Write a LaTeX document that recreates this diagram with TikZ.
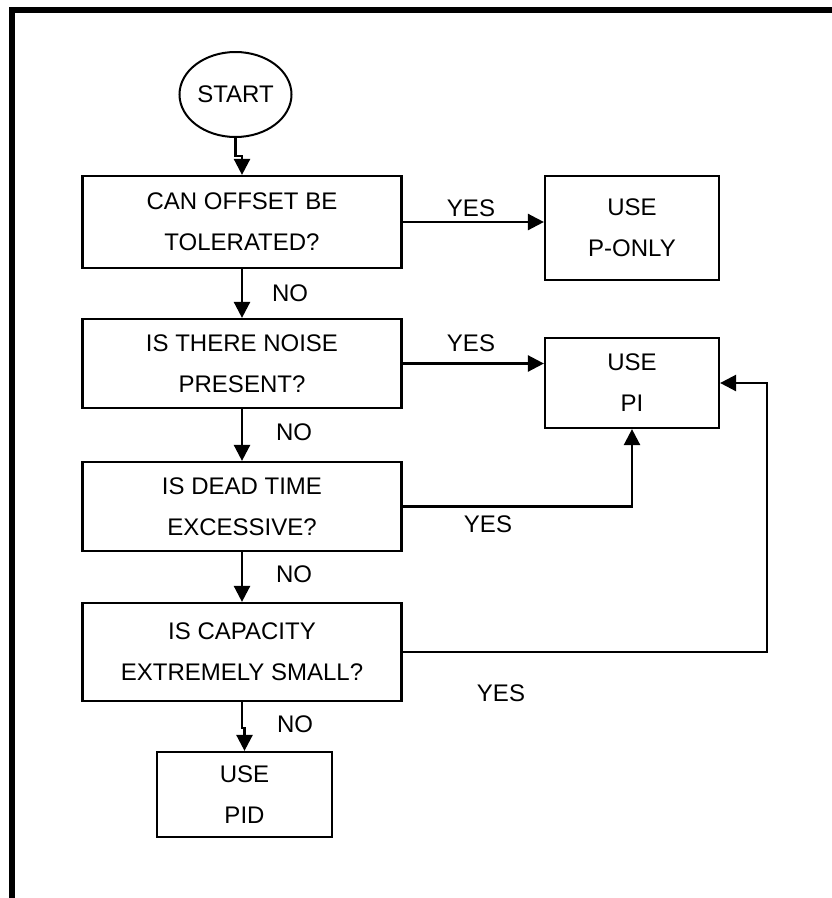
\documentclass[tikz,border=0pt]{standalone}
\usepackage{fontspec}
\setmainfont{Liberation Sans}
\usetikzlibrary{shapes.geometric,arrows.meta}
\begin{document}
\begin{tikzpicture}[x=1pt,y=-1pt,
  txt/.style={font=\fontsize{24}{41}\selectfont},
  decision/.style={draw,line width=2.2pt,txt,align=center,minimum width=319pt,inner sep=0pt},
  outcome/.style={draw,line width=2.2pt,txt,align=center,inner sep=0pt},
  flow/.style={line width=2.5pt,-{Triangle[length=16pt,width=16pt]}},
  link/.style={line width=2.5pt},
  lbl/.style={txt,inner sep=0pt}]
\useasboundingbox (0,0) rectangle (832,898);

% frame (top and left edges)
\draw[line width=6pt] (12,898) -- (12,10) -- (832,10);

% terminal
\node[draw,ellipse,line width=2pt,txt,minimum width=112pt,minimum height=85pt,inner sep=0pt]
  (start) at (235.5,94.5) {START};

% decisions
\node[decision,minimum height=92pt] (q1) at (242,222)   {CAN OFFSET BE\\TOLERATED?};
\node[decision,minimum height=89pt] (q2) at (242,363.5) {IS THERE NOISE\\PRESENT?};
\node[decision,minimum height=89pt] (q3) at (242,506.5) {IS DEAD TIME\\EXCESSIVE?};
\node[decision,minimum height=98pt] (q4) at (242,652)   {IS CAPACITY\\EXTREMELY SMALL?};

% outcomes
\node[outcome,minimum width=174pt,minimum height=104pt] (ponly) at (632,228)   {USE\\P-ONLY};
\node[outcome,minimum width=174pt,minimum height=90pt]  (pi)    at (632,383)   {USE\\PI};
\node[outcome,minimum width=175pt,minimum height=85pt]  (pid)   at (244.5,794.5) {USE\\PID};

% connectors
\draw[flow] (start.south) -- ++(0,18) -| (q1.north);
\draw[flow] (q1.south) -- (q2.north);
\draw[flow] (q2.south) -- (q3.north);
\draw[flow] (q3.south) -- (q4.north);
\draw[flow] (q4.south) -- ++(0,26) -| (pid.north);
\draw[flow] (q1.east) -- (q1.east -| ponly.west);
\draw[flow] (q2.east) -- (q2.east -| pi.west);
\draw[flow] (q3.east) -| (pi.south);
\coordinate (loop) at (767,652);
\draw[flow] (q4.east) -- (loop) |- (pi.east);

% branch labels
\node[lbl] (no1) at (290,293) {NO};
\node[lbl] (no2) at (294,432) {NO};
\node[lbl] (no3) at (294,574) {NO};
\node[lbl] (no4) at (295,724) {NO};
\node[lbl] (yes1) at (471,208) {YES};
\node[lbl] (yes2) at (471,343) {YES};
\node[lbl] (yes3) at (488,524) {YES};
\node[lbl] (yes4) at (501,693) {YES};
\end{tikzpicture}
\end{document}
